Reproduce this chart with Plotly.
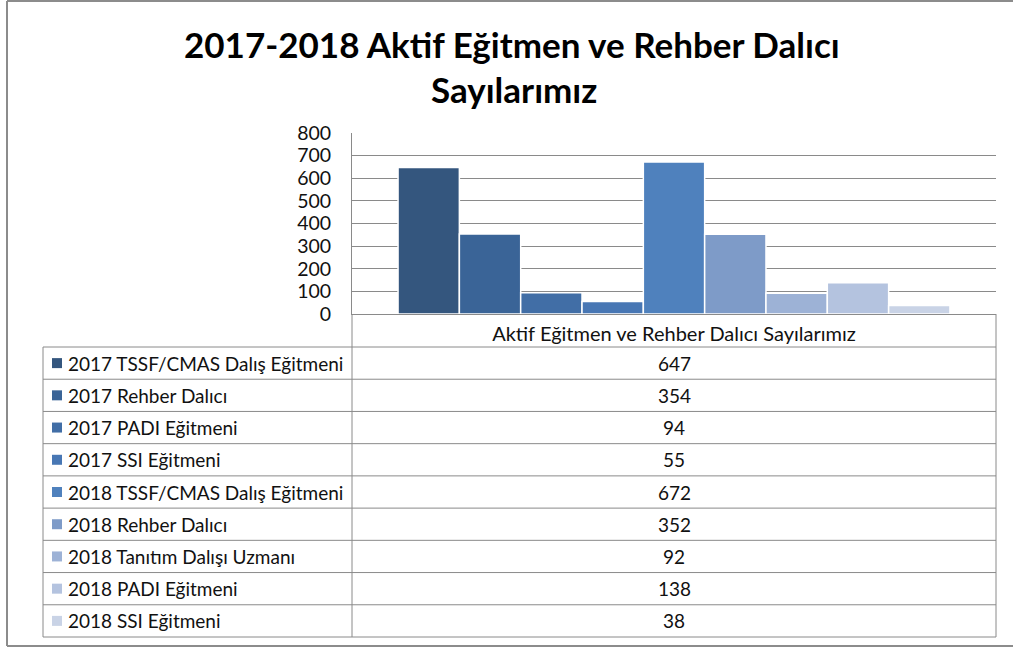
import plotly.graph_objects as go

category = "Aktif Eğitmen ve Rehber Dalıcı Sayılarımız"
series_names = [
    "2017 TSSF/CMAS Dalış Eğitmeni",
    "2017 Rehber Dalıcı",
    "2017 PADI Eğitmeni",
    "2017 SSI Eğitmeni",
    "2018 TSSF/CMAS Dalış Eğitmeni",
    "2018 Rehber Dalıcı",
    "2018 Tanıtım Dalışı Uzmanı",
    "2018 PADI Eğitmeni",
    "2018 SSI Eğitmeni",
]
values = [647, 354, 94, 55, 672, 352, 92, 138, 38]
colors = ["#34567E", "#3A6497", "#416EA6", "#4877B4", "#4F81BD",
          "#7E9BC8", "#9DB2D6", "#B4C3DF", "#C9D3E6"]
title_lines = ["2017-2018 Aktif Eğitmen ve Rehber Dalıcı", "Sayılarımız"]

W, H = 1013, 648
PL, PR, PT, PB = 352, 996, 133, 314  # plot area in pixels

def fx(px):
    return (px - PL) / (PR - PL)

def fy(py):
    return (PB - py) / (PB - PT)

FONT = "Lato"
GRID = "#8A8A8A"
TXT = "#111111"

fig = go.Figure()
for name, v, c in zip(series_names, values, colors):
    fig.add_trace(go.Bar(
        x=[category], y=[v], name=name,
        marker=dict(color=c, line=dict(color="white", width=1.5)),
        showlegend=False,
    ))

shapes = []
annotations = []

def line(x0, y0, x1, y1, color=GRID, width=1):
    shapes.append(dict(type="line", xref="paper", yref="paper",
                       x0=fx(x0), y0=fy(y0), x1=fx(x1), y1=fy(y1),
                       line=dict(color=color, width=width)))

# outer chart border
line(7, 1, 1020, 1, "#8C8C8C", 2)
line(7, 1, 7, 646, "#8C8C8C", 2)
line(7, 646, 1020, 646, "#8C8C8C", 2)

# title
for text, py, cx in zip(title_lines, [44, 89], [512, 514]):
    annotations.append(dict(text=text, xref="paper", yref="paper",
                            x=fx(cx), y=fy(py), xanchor="center", yanchor="middle",
                            showarrow=False,
                            font=dict(family=FONT, size=35, color="black", weight="bold")))

# data table
row_top = 347
row_bot = 637
n = len(series_names)
rh = (row_bot - row_top) / n
for i in range(n + 1):
    y = row_top + i * rh
    line(43, y, PR, y)
line(43, row_top, 43, row_bot)
line(PL, PB, PL, row_bot)
line(PR, PB, PR, row_bot)

for i, (name, v, c) in enumerate(zip(series_names, values, colors)):
    yc = row_top + (i + 0.5) * rh
    shapes.append(dict(type="rect", xref="paper", yref="paper",
                       x0=fx(52), x1=fx(62), y0=fy(yc - 5), y1=fy(yc + 5),
                       fillcolor=c, line=dict(width=0)))
    annotations.append(dict(text=name, xref="paper", yref="paper",
                            x=fx(66), y=fy(yc), xanchor="left", yanchor="middle",
                            showarrow=False,
                            font=dict(family=FONT, size=19, color=TXT)))
    annotations.append(dict(text=str(v), xref="paper", yref="paper",
                            x=0.5, y=fy(yc), xanchor="center", yanchor="middle",
                            showarrow=False,
                            font=dict(family=FONT, size=19, color=TXT)))

fig.update_layout(
    width=W, height=H,
    margin=dict(l=PL, r=W - PR, t=PT, b=H - PB, pad=0),
    paper_bgcolor="white", plot_bgcolor="white",
    barmode="group", bargap=0.143, bargroupgap=0,
    xaxis=dict(showline=True, linecolor=GRID, linewidth=1, ticks="",
               tickfont=dict(family=FONT, size=20, color=TXT),
               showgrid=False, ticklabelstandoff=2),
    yaxis=dict(range=[0, 800], dtick=100, showgrid=True, gridcolor=GRID,
               gridwidth=1, zeroline=False, showline=True, linecolor=GRID,
               ticks="", tickfont=dict(family=FONT, size=19.5, color=TXT),
               ticklabelstandoff=16),
    shapes=shapes,
    annotations=annotations,
)

fig.write_html("out.html", config={"displayModeBar": False},
               post_script="document.body.style.margin='0';document.body.style.overflow='hidden';")
